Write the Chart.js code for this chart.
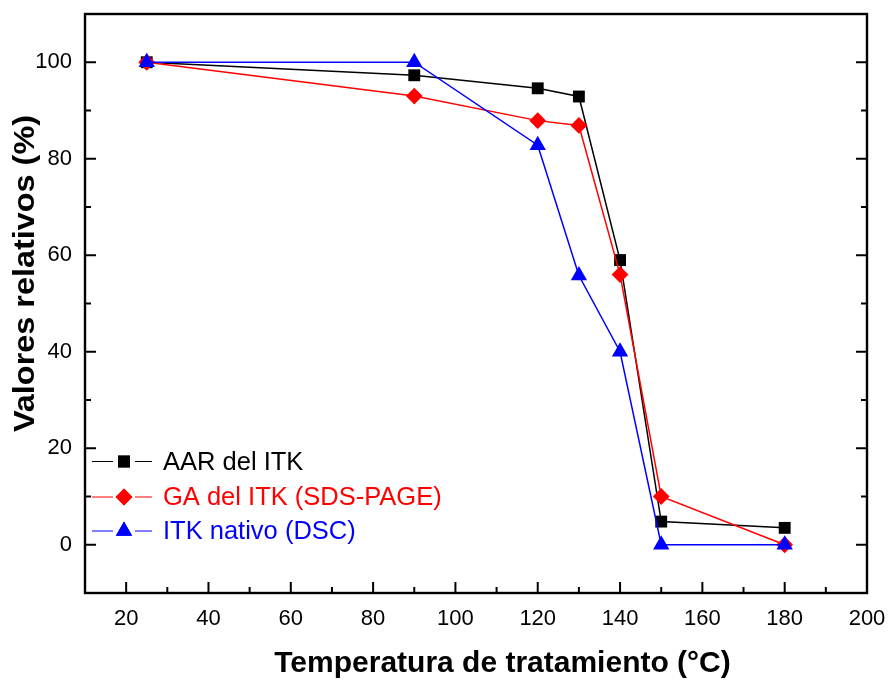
<!DOCTYPE html>
<html>
<head>
<meta charset="utf-8">
<script src="https://cdn.jsdelivr.net/npm/chart.js@4"></script>
<style>
html,body{margin:0;padding:0;background:#fff;}
#wrap{width:888px;height:681px;position:relative;}
</style>
</head>
<body>
<div id="wrap"><canvas id="c" width="888" height="681"></canvas></div>
<script>
const temps = [25, 90, 120, 130, 140, 150, 180];
const aarValues = [100, 97.3, 94.6, 92.9, 59, 4.8, 3.5];
const gaValues = [100, 93, 87.9, 86.9, 56, 10, 0];
const itkValues = [100, 100, 82.8, 55.8, 40, 0, 0];
const seriesNames = ['AAR del ITK', 'GA del ITK (SDS-PAGE)', 'ITK nativo (DSC)'];
const xTickLabels = [20, 40, 60, 80, 100, 120, 140, 160, 180, 200];
const yTickLabels = [0, 20, 40, 60, 80, 100];
const xMinorTicks = [30, 50, 70, 90, 110, 130, 150, 170, 190];
const yMinorTicks = [10, 30, 50, 70, 90];
const xTitle = 'Temperatura de tratamiento (°C)';
const yTitle = 'Valores relativos (%)';

const FONT = "'Liberation Sans', Arial, sans-serif";
const colors = ['#000000', '#ff0000', '#0000ff'];
const styles = ['rect', 'rectRot', 'triangle'];
const radii = [8.4, 8.4, 9.4];

function pts(vals){ return temps.map((t,i)=>({x:t,y:vals[i]})); }
const allVals = [aarValues, gaValues, itkValues];

const datasets = allVals.map((v,i)=>({
  label: seriesNames[i],
  data: pts(v),
  borderColor: colors[i],
  backgroundColor: colors[i],
  borderWidth: 1.5,
  pointStyle: styles[i],
  pointRadius: radii[i],
  pointBorderWidth: 0,
  pointBackgroundColor: colors[i],
  tension: 0,
  order: 2 - i
}));

const framePlugin = {
  id: 'frame',
  afterDatasetsDraw(chart){
    const ctx = chart.ctx;
    const a = chart.chartArea;
    const xs = chart.scales.x, ys = chart.scales.y;
    ctx.save();
    ctx.strokeStyle = '#000';
    ctx.lineWidth = 2.4;
    ctx.strokeRect(a.left, a.top, a.right - a.left, a.bottom - a.top);
    ctx.lineWidth = 2;
    const major = 11, minor = 6;
    ctx.beginPath();
    xTickLabels.forEach(v=>{ const p = xs.getPixelForValue(v); ctx.moveTo(p, a.bottom); ctx.lineTo(p, a.bottom - major); });
    xMinorTicks.forEach(v=>{ const p = xs.getPixelForValue(v); ctx.moveTo(p, a.bottom); ctx.lineTo(p, a.bottom - minor); });
    yTickLabels.forEach(v=>{ const p = ys.getPixelForValue(v);
      ctx.moveTo(a.left, p); ctx.lineTo(a.left + major, p);
      ctx.moveTo(a.right, p); ctx.lineTo(a.right - major, p); });
    yMinorTicks.forEach(v=>{ const p = ys.getPixelForValue(v);
      ctx.moveTo(a.left, p); ctx.lineTo(a.left + minor, p);
      ctx.moveTo(a.right, p); ctx.lineTo(a.right - minor, p); });
    ctx.stroke();

    // legend
    const lx0 = a.left + 7, lx1 = a.left + 67, mx = a.left + 39, tx = a.left + 78;
    const rowY = [461.5, 497, 531];
    chart.data.datasets.forEach((ds,i)=>{
      const y = rowY[i];
      ctx.strokeStyle = ds.borderColor;
      ctx.lineWidth = 1.2;
      ctx.beginPath();
      ctx.moveTo(lx0, y); ctx.lineTo(mx - 11, y);
      ctx.moveTo(mx + 11, y); ctx.lineTo(lx1, y);
      ctx.stroke();
      ctx.fillStyle = ds.borderColor;
      ctx.beginPath();
      Chart.helpers.drawPoint(ctx, {pointStyle: ds.pointStyle, radius: ds.pointRadius, borderWidth: 0, rotation: 0}, mx, y);
      ctx.fill();
      ctx.font = '25.5px ' + FONT;
      ctx.textBaseline = 'middle';
      ctx.textAlign = 'left';
      ctx.fillText(ds.label, tx, y + 1);
    });

    // axis titles
    ctx.fillStyle = '#000';
    ctx.textAlign = 'center';
    ctx.textBaseline = 'middle';
    ctx.font = 'bold 30px ' + FONT;
    ctx.fillText(xTitle, 502.5, 664);
    ctx.save();
    ctx.translate(26, 273.5);
    ctx.rotate(-Math.PI / 2);
    ctx.font = 'bold 29px ' + FONT;
    const w = ctx.measureText(yTitle).width;
    ctx.scale(317 / w, 1);
    ctx.fillText(yTitle, 0, 0);
    ctx.restore();
    ctx.restore();
  }
};

new Chart(document.getElementById('c'), {
  type: 'line',
  data: { datasets },
  options: {
    responsive: false,
    animation: false,
    devicePixelRatio: 1,
    layout: { padding: { left: 0, top: 14, right: 21, bottom: 0 } },
    plugins: { legend: { display: false }, tooltip: { enabled: false } },
    scales: {
      x: {
        type: 'linear', min: 10, max: 200,
        afterBuildTicks(s){ s.ticks = xTickLabels.map(v=>({value:v})); },
        afterFit(s){ s.height = 88; s.paddingLeft = 0; s.paddingRight = 0; },
        grid: { display: false },
        border: { display: false },
        ticks: { color: '#000', font: { family: FONT, size: 22 }, padding: 5, maxRotation: 0, autoSkip: false },
        title: { display: false }
      },
      y: {
        type: 'linear', min: -10, max: 110,
        afterBuildTicks(s){ s.ticks = yTickLabels.map(v=>({value:v})); },
        afterFit(s){ s.width = 85; s.paddingTop = 0; s.paddingBottom = 0; },
        grid: { display: false },
        border: { display: false },
        ticks: { color: '#000', font: { family: FONT, size: 22 }, padding: 5 },
        title: { display: false }
      }
    }
  },
  plugins: [framePlugin]
});
</script>
</body>
</html>
